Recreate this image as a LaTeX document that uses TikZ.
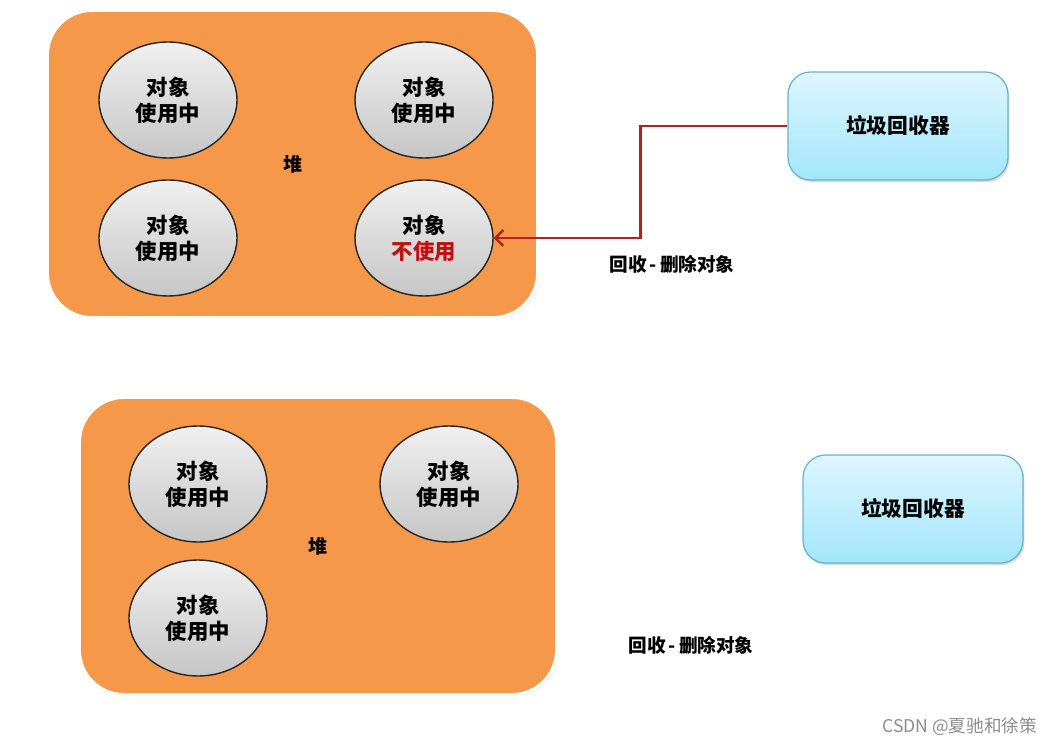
\documentclass[tikz,border=0pt]{standalone}
\usepackage{fontspec}
\setmainfont{Noto Sans CJK SC}
\usetikzlibrary{arrows.meta,shapes.geometric,shadows}

\definecolor{heaporange}{RGB}{246,152,74}
\definecolor{gctop}{RGB}{222,246,255}
\definecolor{gcbottom}{RGB}{162,230,250}
\definecolor{gcedge}{RGB}{105,178,205}
\definecolor{gcred}{RGB}{178,34,34}
\definecolor{unusedred}{RGB}{192,16,16}

\begin{document}
\begin{tikzpicture}
	[x=0.02cm,y=-0.02cm,>={Straight Barb[length=4.5pt,width=9pt]},
		heap node/.style={rectangle,draw=white,line width=2.2pt,fill=heaporange,rounded corners=0.9cm,
			drop shadow={opacity=0.4,shadow xshift=0.9pt,shadow yshift=-0.9pt},font=\bfseries\fontsize{10.8}{12}\selectfont},
		obj node/.style={ellipse,draw=black!85,line width=0.8pt,top color=gray!12,bottom color=gray!45,
			minimum width=2.76cm,minimum height=2.32cm,inner sep=0pt,align=center,
			font=\bfseries\fontsize{12.2}{14.7}\selectfont},
		gc node/.style={rectangle,rounded corners=0.45cm,draw=gcedge,line width=0.7pt,top color=gctop,bottom color=gcbottom,
			minimum width=4.4cm,minimum height=2.16cm,drop shadow={opacity=0.3,shadow xshift=0.8pt,shadow yshift=-1.2pt},
			font=\bfseries\fontsize{11.8}{14}\selectfont},
		label node/.style={font=\bfseries\fontsize{10.6}{12}\selectfont}]

	\useasboundingbox (0,0) rectangle (1047,746);

	\node[heap node, minimum width=9.82cm, minimum height=6.16cm] (H1) at (292.5,164) {堆};
	\node[obj node] (A1) at (168,100) {对象\\使用中};
	\node[obj node] (B1) at (424,100) {对象\\使用中};
	\node[obj node] (C1) at (168,238) {对象\\使用中};
	\node[obj node] (D1) at (424,238) {对象\\\textcolor{unusedred}{不使用}};
	\node[gc node] (G1) at (898,126) {垃圾回收器};
	\node[label node] (L1) at (672,264) {回收\,-\,删除对象};

	\path[draw=gcred,line width=1.4pt,->]
	(G1.west) -- ++(-147,0) |- (D1.east);

	\node[heap node, minimum width=9.56cm, minimum height=5.96cm] (H2) at (318,546) {堆};
	\node[obj node] (A2) at (198,484) {对象\\使用中};
	\node[obj node] (B2) at (449,484) {对象\\使用中};
	\node[obj node] (C2) at (198,618) {对象\\使用中};
	\node[gc node] (G2) at (913,509) {垃圾回收器};
	\node[label node] (L2) at (691,645) {回收\,-\,删除对象};

	\node[text=black!45,anchor=east,font=\fontsize{10}{12}\selectfont] (W) at (1043,727) {CSDN @夏驰和徐策};
\end{tikzpicture}
\end{document}
